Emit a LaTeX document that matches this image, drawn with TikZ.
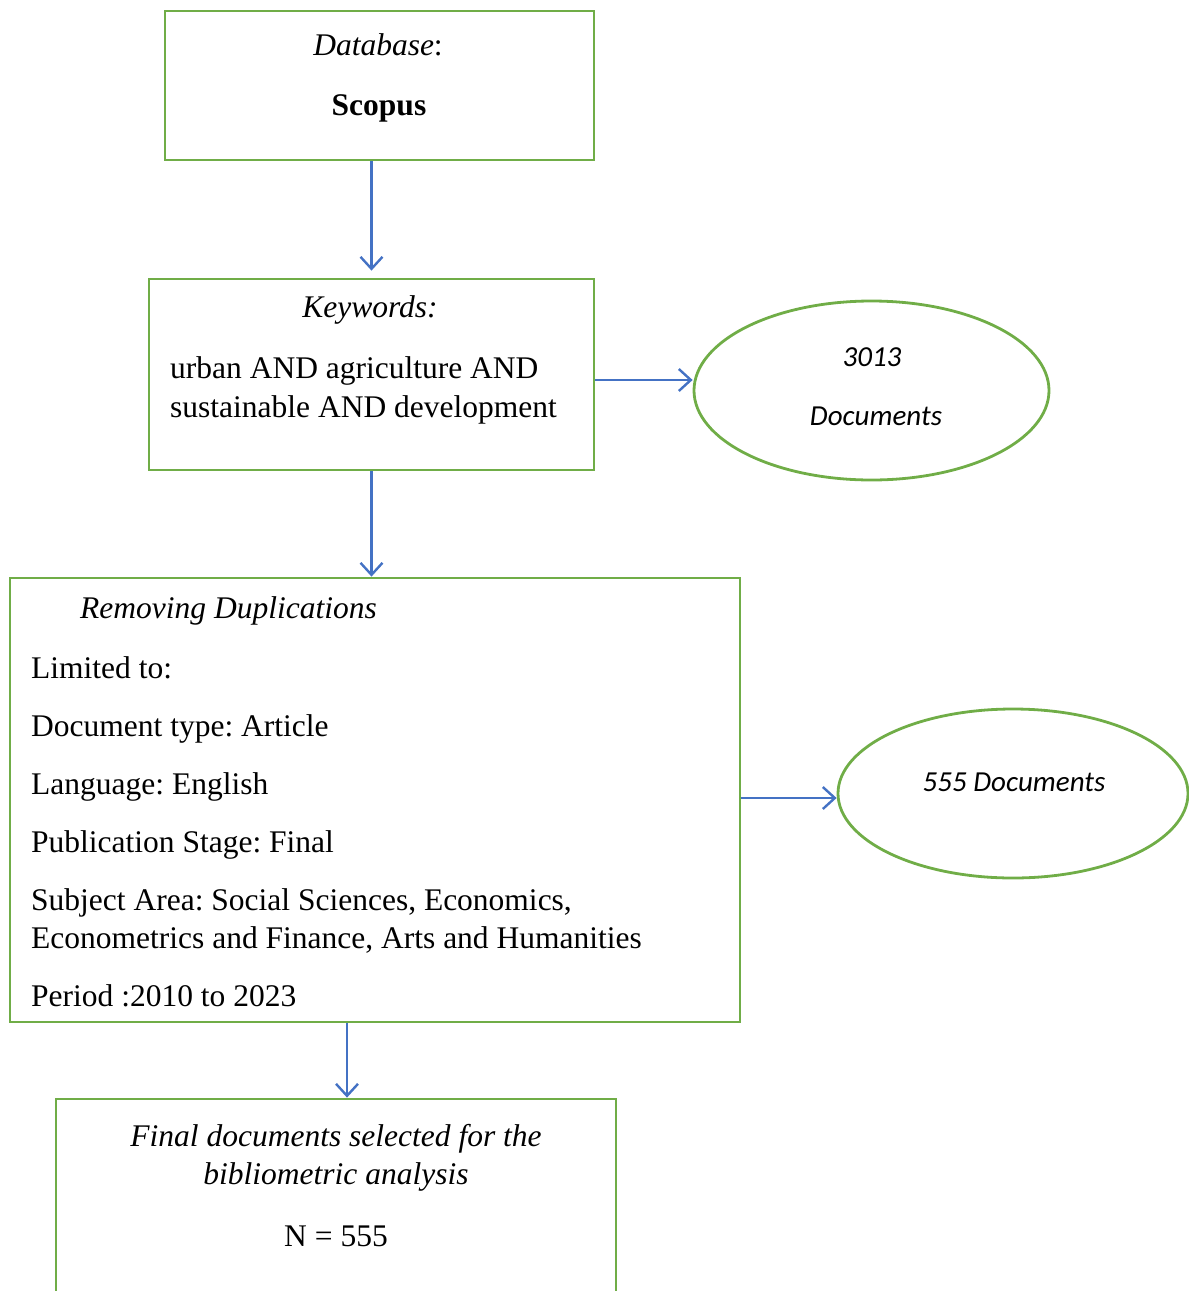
\documentclass[tikz,border=0pt]{standalone}
\usepackage{fontspec}
\setmainfont{Liberation Serif}
\newfontfamily\calib{Carlito}
\usetikzlibrary{arrows.meta,shapes.geometric}
\definecolor{grn}{RGB}{112,173,71}
\definecolor{blu}{RGB}{68,114,196}
\frenchspacing
\begin{document}
\begin{tikzpicture}[x=1pt,y=-1pt,
  box/.style={draw=grn,line width=2.8pt,rectangle,inner sep=0pt},
  ell/.style={draw=grn,line width=2.8pt,ellipse,inner sep=0pt},
  arr/.style={draw=blu,line width=2.4pt,-{Straight Barb[length=12pt,width=22pt,line width=2.4pt]}},
  tx/.style={inner sep=0pt,font=\fontsize{31.5}{38}\selectfont},
  sx/.style={inner sep=0pt,font=\fontsize{29}{34}\selectfont\calib\itshape}]
\clip (0,0) rectangle (1189,1291);
% boxes
\node[box,minimum width=429,minimum height=149] (b1) at (379.5,85.5) {};
\node[box,minimum width=445,minimum height=191] (b2) at (371.5,374.5) {};
\node[box,minimum width=730,minimum height=444] (b3) at (375,800) {};
\node[box,minimum width=560,minimum height=211] (b4) at (336,1204.5) {};
\node[ell,minimum width=355,minimum height=179] (e1) at (871.5,390.5) {};
\node[ell,minimum width=350,minimum height=169] (e2) at (1013,793.5) {};
% texts
\node[tx,anchor=base] (t1) at (378,55) {\textit{Database}:};
\node[tx,anchor=base] (t2) at (379,115) {\textbf{Scopus}};
\node[tx,anchor=base] (t3) at (370,317) {\textit{Keywords:}};
\node[tx,anchor=base west] (t4) at (170,378) {urban AND agriculture AND};
\node[tx,anchor=base west] (t5) at (170,417) {sustainable AND development};
\node[sx,anchor=base] (t6) at (872,366) {3013};
\node[sx,anchor=base] (t7) at (876,425) {Documents};
\node[tx,anchor=base west] (t8) at (80,618) {\textit{Removing Duplications}};
\node[tx,anchor=base west] (t9) at (31,678) {Limited to:};
\node[tx,anchor=base west] (t10) at (31,736) {Document type: Article};
\node[tx,anchor=base west] (t11) at (31,794) {Language: English};
\node[tx,anchor=base west] (t12) at (31,852) {Publication Stage: Final};
\node[tx,anchor=base west] (t13) at (31,910) {Subject Area: Social Sciences, Economics,};
\node[tx,anchor=base west] (t14) at (31,948) {Econometrics and Finance, Arts and Humanities};
\node[tx,anchor=base west] (t15) at (31,1006) {Period :2010 to 2023};
\node[sx,anchor=base] (t16) at (1014,791) {555 Documents};
\node[tx,anchor=base] (t17) at (336,1146) {\textit{Final documents selected for the}};
\node[tx,anchor=base] (t18) at (336,1184) {\textit{bibliometric analysis}};
\node[tx,anchor=base] (t19) at (336,1246) {N = 555};
% connectors
\draw[arr,shorten >=7pt] (b1.south -| b2.north) -- (b2.north);
\draw[arr] (b2.south) -- (b2.south |- b3.north);
\draw[arr] ([xshift=-28]b3.south) -- ([xshift=-28]b3.south |- b4.north);
\draw[arr] ([yshift=-5.5]b2.east) -- ([yshift=-5.5]b2.east -| e1.west);
\draw[arr] ([yshift=2]b3.east) -- ([yshift=2]b3.east -| e2.west);
\end{tikzpicture}
\end{document}
